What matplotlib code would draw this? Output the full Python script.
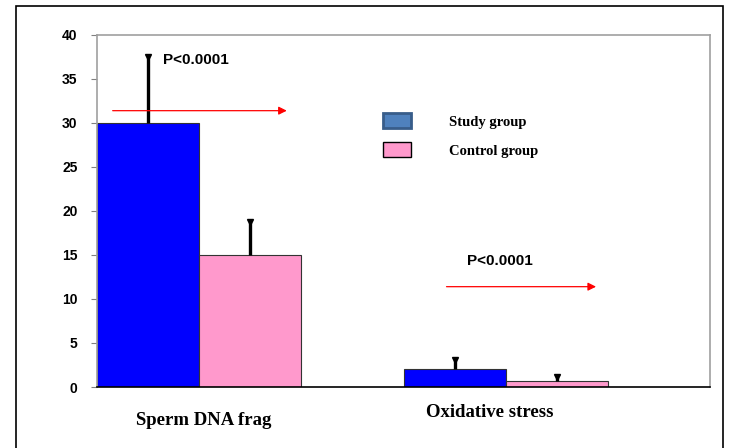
import numpy as np
import matplotlib.pyplot as plt
from matplotlib.patches import Rectangle, Patch

categories = ['Sperm DNA frag', 'Oxidative stress']
study = [30, 2.1]
study_err = [7.5, 0.95]
control = [15, 0.7]
control_err = [3.7, 0.45]
p_labels = ['P<0.0001', 'P<0.0001']
yticks = [0, 5, 10, 15, 20, 25, 30, 35, 40]

W, H = 729, 448
fig = plt.figure(figsize=(W / 100, H / 100), dpi=100)

# outer frame (bottom runs off the image)
fig.patches.append(Rectangle((16 / W, -0.05), (723 - 16) / W, (H - 6) / H + 0.05,
                             transform=fig.transFigure, fill=False,
                             edgecolor='black', linewidth=1.2))

ax = fig.add_axes([97 / W, 1 - 387 / H, (710 - 97) / W, (387 - 35) / H])

x = np.arange(len(categories))
w = 0.332
ax.bar(x - w / 2, study, w, color='#0000ff', edgecolor='#333333', linewidth=0.8)
ax.bar(x + w / 2, control, w, color='#ff99cc', edgecolor='#333333', linewidth=0.8)

# upper-only error bars
for xs, vals, errs in [(x - w / 2, study, study_err), (x + w / 2, control, control_err)]:
    tops = np.array(vals) + np.array(errs)
    ax.vlines(xs, vals, tops, color='black', linewidth=2.4, zorder=3)
    ax.plot(xs, tops, linestyle='none', marker='v', markersize=4, color='black', zorder=3)

ax.set_xlim(-w, 1 + 2 * w)
ax.set_ylim(0, 40)
ax.set_yticks(yticks)
ax.set_yticklabels([str(t) for t in yticks], fontfamily='Liberation Sans',
                   fontweight='bold', fontsize=10)
ax.set_xticks([])
ax.tick_params(axis='y', length=4, color='#808080', pad=10)
for s in ['top', 'right', 'left']:
    ax.spines[s].set_color('#a0a0a0')
    ax.spines[s].set_linewidth(1.2)
ax.spines['bottom'].set_color('black')
ax.spines['bottom'].set_linewidth(1.2)

# significance arrows
ax.annotate('', xy=(0.295, 31.4), xytext=(-0.29, 31.4),
            arrowprops=dict(arrowstyle='-|>', color='red', lw=0.9, mutation_scale=12))
ax.annotate('', xy=(1.302, 11.4), xytext=(0.797, 11.4),
            arrowprops=dict(arrowstyle='-|>', color='red', lw=0.9, mutation_scale=12))
ax.text(-0.117, 37.2, p_labels[0], fontfamily='Liberation Sans', fontweight='bold',
        fontsize=11, va='center')
ax.text(0.873, 14.3, p_labels[1], fontfamily='Liberation Sans', fontweight='bold',
        fontsize=11, va='center')

# category labels
ax.text(0.017, -3.75, categories[0], fontfamily='Liberation Serif', fontweight='bold',
        fontsize=13.5, ha='center', va='center')
ax.text(0.948, -2.85, categories[1], fontfamily='Liberation Serif', fontweight='bold',
        fontsize=13.5, ha='center', va='center')

# legend
leg = ax.legend(handles=[Patch(facecolor='#4f81bd', edgecolor='#385d8a', linewidth=2),
                         Patch(facecolor='#ff99cc', edgecolor='black', linewidth=1)],
                labels=['Study group', 'Control group'],
                loc='upper left', bbox_to_anchor=(273 / 613, 0.815), frameon=False,
                handlelength=1.9, handleheight=1.2, handletextpad=2.6, labelspacing=0.95,
                prop={'family': 'Liberation Serif', 'weight': 'bold', 'size': 10.5})

fig.savefig('out.png', dpi=100)
